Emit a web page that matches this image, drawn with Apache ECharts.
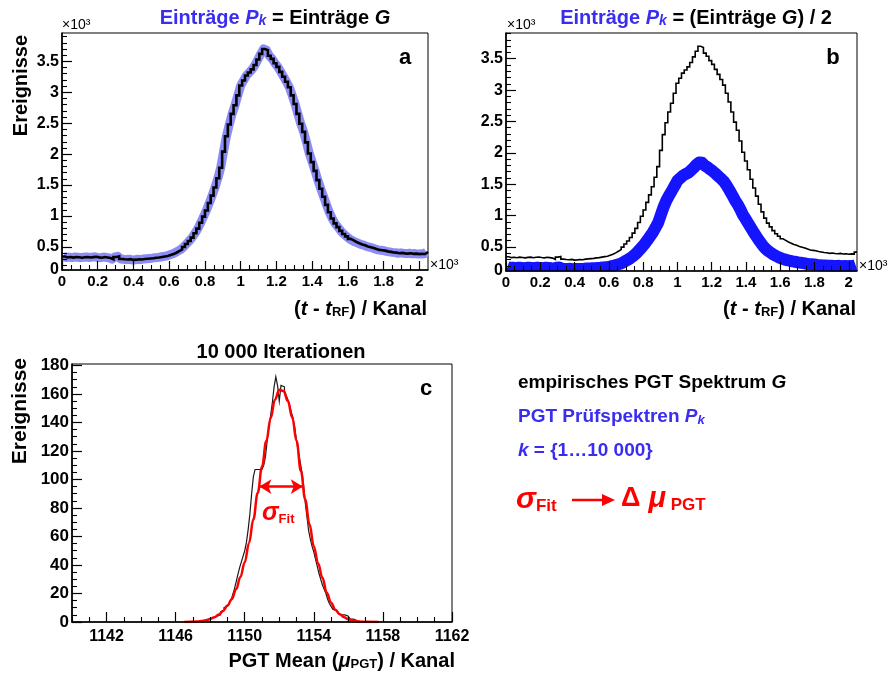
<!DOCTYPE html>
<html>
<head>
<meta charset="utf-8">
<script src="https://cdn.jsdelivr.net/npm/echarts@6/dist/echarts.min.js"></script>
<style>
  html, body { margin: 0; padding: 0; background: #fff; }
  #chart { width: 891px; height: 675px; }
</style>
</head>
<body>
<div id="chart"></div>
<script>
// ---------------------------------------------------------------
// Timing spectrum G (channel bins of width 16, left edges 0 ... 2032)
// ---------------------------------------------------------------
const binWidth = 16;
const spectrumG = [
  345, 330, 336, 328, 338, 332, 326, 334, 338, 329, 335, 340, 331, 326, 336, 330,
  322, 302, 338, 348, 306, 300, 296, 302, 290, 294, 300, 296, 306, 310, 314, 318,
  326, 330, 338, 346, 352, 368, 384, 406, 432, 458, 498, 548, 596, 650, 720, 796,
  890, 990, 1090, 1210, 1330, 1460, 1610, 1780, 2040, 2290, 2480, 2650, 2790, 2950, 3110, 3190,
  3270, 3320, 3370, 3440, 3530, 3620, 3700, 3680, 3590, 3540, 3470, 3410, 3330, 3250, 3170, 3080,
  2950, 2810, 2650, 2490, 2360, 2190, 2010, 1870, 1730, 1580, 1440, 1310, 1180, 1060, 960, 880,
  820, 760, 710, 670, 630, 605, 580, 560, 540, 528, 508, 496, 484, 466, 452, 446,
  440, 428, 420, 412, 408, 398, 404, 396, 392, 398, 388, 392, 384, 390, 386, 418
];
// Test spectra P_k with half the entries of G (same binning)
const spectrumHalf = [
  178, 164, 170, 163, 168, 167, 161, 168, 170, 163, 167, 171, 164, 162, 169, 165,
  160, 153, 168, 172, 154, 150, 149, 151, 145, 148, 150, 149, 152, 156, 157, 160,
  162, 166, 168, 174, 176, 184, 193, 203, 216, 230, 249, 275, 298, 326, 360, 398,
  446, 494, 546, 604, 666, 730, 806, 888, 1015, 1140, 1242, 1322, 1398, 1474, 1556, 1596,
  1634, 1662, 1684, 1722, 1764, 1812, 1848, 1842, 1796, 1770, 1736, 1704, 1666, 1624, 1586, 1540,
  1476, 1404, 1326, 1246, 1178, 1096, 1004, 936, 864, 792, 720, 654, 590, 530, 480, 440,
  410, 380, 356, 334, 316, 302, 290, 280, 270, 264, 254, 248, 242, 233, 226, 223,
  220, 214, 210, 206, 204, 199, 202, 198, 196, 199, 194, 196, 192, 195, 193, 208
];

// ---------------------------------------------------------------
// Distribution of PGT means over 10 000 iterations
// ---------------------------------------------------------------
const meanBinStart = 1147.4;
const meanBinWidth = 0.1;
const meanCounts = [
  0, 0, 1, 1, 1, 2, 2, 3, 3, 4,
  4, 5, 7, 8, 10, 11, 12, 13, 15, 19,
  23, 28, 33, 38, 42, 46, 50, 56, 65, 76,
  90, 102, 107, 107, 108, 107, 108, 110, 116, 127,
  137, 145, 154, 165, 172, 166, 155, 166, 165, 162,
  159, 156, 152, 147, 143, 136, 127, 120, 113, 106,
  97, 84, 74, 64, 58, 53, 49, 44, 39, 34,
  30, 26, 23, 20, 16, 13, 11, 9, 8, 7,
  6, 5, 5, 5, 6, 4, 3, 2, 2, 1,
  1, 1, 0, 0
];
// Gaussian fit curve, sampled
const fitX = [1146.5, 1147.25, 1147.5, 1147.75, 1148, 1148.25, 1148.5, 1148.75, 1149, 1149.25,
  1149.5, 1149.75, 1150, 1150.25, 1150.5, 1150.75, 1151, 1151.25, 1151.5, 1151.75,
  1152, 1152.25, 1152.5, 1152.75, 1153, 1153.25, 1153.5, 1153.75, 1154, 1154.25,
  1154.5, 1154.75, 1155, 1155.25, 1155.5, 1155.75, 1156, 1156.25, 1156.5, 1156.75,
  1157, 1157.75];
const fitY = [0.05, 0.4, 0.7, 1.3, 2.1, 3.4, 5.2, 7.8, 11.5, 16,
  23, 31.5, 42, 55.5, 72, 90.5, 109, 127, 143, 156,
  163, 162, 155, 143.5, 127, 106, 86, 68.5, 53, 41,
  31, 20.5, 13.5, 8.6, 5.5, 3.4, 2, 1.1, 0.5, 0.25,
  0.1, 0];
// width marker of the fit (x from, x to, height)
const sigmaSpan = [1150.85, 1153.36];
const sigmaLevel = 95;

// ---------------------------------------------------------------
// Tick labels
// ---------------------------------------------------------------
const spectrumTickX = [0, 200, 400, 600, 800, 1000, 1200, 1400, 1600, 1800, 2000];
const spectrumTickY = [500, 1000, 1500, 2000, 2500, 3000, 3500];
const meanTickX = [1142, 1146, 1150, 1154, 1158, 1162];
const meanTickY = [0, 20, 40, 60, 80, 100, 120, 140, 160, 180];

// axis ranges
const rangeA = { xMin: 0, xMax: 2048, yMin: 127, yMax: 3958 };
const rangeB = { xMin: 0, xMax: 2048, yMin: 117, yMax: 3910 };
const rangeC = { xMin: 1140, xMax: 1162, yMin: 0, yMax: 181 };

// ---------------------------------------------------------------
const FONT = '"Liberation Sans", Arial, Helvetica, sans-serif';
const BLUE_TXT = '#3a2df0';
const RED = '#ff0000';

// step outline of a histogram: one point per left bin edge plus the closing edge
function histPoints(values, start, width) {
  const pts = values.map((v, i) => [+(start + i * width).toFixed(3), v]);
  pts.push([+(start + values.length * width).toFixed(3), values[values.length - 1]]);
  return pts;
}
// the same histogram as a polyline through the bin centres (for the broad envelopes)
function centrePoints(values, start, width) {
  return values.map((v, i) => [+(start + (i + 0.5) * width).toFixed(3), v]);
}
function steps(from, to, step, skip) {
  const out = [];
  for (let v = from; v <= to + 1e-9; v += step) {
    const r = +v.toFixed(4);
    if (!skip.some(s => Math.abs(s - r) < 1e-6)) out.push(r);
  }
  return out;
}

const xAxes = [], yAxes = [];
function addAxes(list, dim, grid, min, max, majors, minors, labelVals, fmt, o) {
  const pos = dim === 'x' ? 'bottom' : 'left';
  list.push({
    gridIndex: grid, type: 'value', min, max, position: pos, z: 6,
    axisLine: { show: true, onZero: false, lineStyle: { color: '#000', width: 1.6 } },
    axisTick: { show: true, inside: true, length: o.major, customValues: majors,
      lineStyle: { color: '#000', width: 1.2 } },
    axisLabel: { show: true, customValues: labelVals, formatter: fmt, color: '#000',
      fontWeight: 'bold', fontSize: o.fontSize, fontFamily: FONT, margin: o.margin },
    splitLine: { show: false }
  });
  const majorIdx = list.length - 1;
  list.push({
    gridIndex: grid, type: 'value', min, max, position: pos, z: 6,
    axisLine: { show: false, onZero: false },
    axisTick: { show: true, inside: true, length: o.minor, customValues: minors,
      lineStyle: { color: '#000', width: 1.1 } },
    axisLabel: { show: false },
    splitLine: { show: false }
  });
  return majorIdx;
}

const kFmt = v => String(+(v / 1000).toFixed(1));
const kFmtZero = min => v => (v <= min + 1 ? '0' : String(+(v / 1000).toFixed(1)));

// panel a
const axA_x = addAxes(xAxes, 'x', 0, rangeA.xMin, rangeA.xMax, spectrumTickX,
  steps(50, 2000, 50, spectrumTickX), spectrumTickX, kFmt, { major: 9, minor: 5, fontSize: 15, margin: 4 });
const axA_y = addAxes(yAxes, 'y', 0, rangeA.yMin, rangeA.yMax, spectrumTickY,
  steps(200, 3900, 100, spectrumTickY), [rangeA.yMin].concat(spectrumTickY), kFmtZero(rangeA.yMin),
  { major: 10, minor: 5, fontSize: 16, margin: 3 });
// panel b
const axB_x = addAxes(xAxes, 'x', 1, rangeB.xMin, rangeB.xMax, spectrumTickX,
  steps(50, 2000, 50, spectrumTickX), spectrumTickX, kFmt, { major: 9, minor: 5, fontSize: 15, margin: 4 });
const axB_y = addAxes(yAxes, 'y', 1, rangeB.yMin, rangeB.yMax, spectrumTickY,
  steps(200, 3900, 100, spectrumTickY), [rangeB.yMin].concat(spectrumTickY), kFmtZero(rangeB.yMin),
  { major: 10, minor: 5, fontSize: 16, margin: 3 });
// panel c
const axC_x = addAxes(xAxes, 'x', 2, rangeC.xMin, rangeC.xMax, meanTickX,
  steps(1140, 1162, 1, meanTickX), meanTickX, v => String(v), { major: 10, minor: 5, fontSize: 16, margin: 7 });
const axC_y = addAxes(yAxes, 'y', 2, rangeC.yMin, rangeC.yMax, meanTickY,
  steps(5, 180, 5, meanTickY), meanTickY, v => String(v), { major: 10, minor: 5, fontSize: 17, margin: 3 });

const gridBase = { show: true, borderColor: '#000', borderWidth: 1, backgroundColor: 'transparent', containLabel: false };

function R(size, fill, italic, more) {
  return Object.assign({ fontSize: size, fontWeight: 'bold', fontStyle: italic ? 'italic' : 'normal',
    fontFamily: FONT, fill: fill }, more || {});
}
const SUB = { verticalAlign: 'bottom', lineHeight: 11 };

function text(x, y, str, style, el) {
  return Object.assign({ type: 'text', x: x, y: y, silent: true, z: 10,
    style: Object.assign({ text: str, fill: '#000', font: 'bold 20px ' + FONT,
      align: 'left', verticalAlign: 'middle' }, style || {}) }, el || {});
}

const titleRichBlue = {
  b: R(20, BLUE_TXT, false), bi: R(20, BLUE_TXT, true), bs: R(14, BLUE_TXT, true, SUB),
  k: R(20, '#000', false), ki: R(20, '#000', true)
};
const kanalRich = { p: R(20, '#000', false), i: R(20, '#000', true), s: R(13, '#000', false, SUB) };

const graphics = [
  // keeps the broad envelope of panel b inside its frame
  { type: 'rect', silent: true, z: 4, shape: { x: 505, y: 271.8, width: 354, height: 8 }, style: { fill: '#fff' } },
  // panel titles
  text(275, 18, '{b|Einträge }{bi|P}{bs|k}{k| = Einträge }{ki|G}', { align: 'center', rich: titleRichBlue }),
  text(696, 18, '{b|Einträge }{bi|P}{bs|k}{k| = (Einträge }{ki|G}{k|) / 2}', { align: 'center', rich: titleRichBlue }),
  text(281, 352, '10 000 Iterationen', { align: 'center' }),
  // exponents
  text(62, 25, '×10³', { font: '14px ' + FONT }),
  text(507, 25, '×10³', { font: '14px ' + FONT }),
  text(430, 265, '×10³', { font: '14px ' + FONT }),
  text(859, 266, '×10³', { font: '14px ' + FONT }),
  // panel letters
  text(405, 58, 'a', { align: 'center', font: 'bold 22px ' + FONT }),
  text(833, 58, 'b', { align: 'center', font: 'bold 22px ' + FONT }),
  text(426, 389, 'c', { align: 'center', font: 'bold 22px ' + FONT }),
  // axis titles
  text(427, 309, '{p|(}{i|t}{p| - }{i|t}{s|RF}{p|) / Kanal}', { align: 'right', rich: kanalRich }),
  text(856, 309, '{p|(}{i|t}{p| - }{i|t}{s|RF}{p|) / Kanal}', { align: 'right', rich: kanalRich }),
  text(455, 661, '{p|PGT Mean (}{i|μ}{s|PGT}{p|) / Kanal}', { align: 'right', rich: kanalRich }),
  text(21, 35, 'Ereignisse', { align: 'right', font: 'bold 20px ' + FONT }, { rotation: Math.PI / 2 }),
  text(20, 358, 'Ereignisse', { align: 'right', font: 'bold 21px ' + FONT }, { rotation: Math.PI / 2 }),
  // fit width label
  text(262, 513, '{s|σ}{f|Fit}', { rich: { s: R(25, RED, true), f: R(13, RED, false, SUB) } }),
  // description block
  text(518, 383, '{n|empirisches PGT Spektrum }{i|G}', { rich: { n: R(19, '#000', false), i: R(19, '#000', true) } }),
  text(518, 417, '{n|PGT Prüfspektren }{i|P}{s|k}', { rich: { n: R(19, BLUE_TXT, false), i: R(19, BLUE_TXT, true), s: R(13, BLUE_TXT, true, SUB) } }),
  text(518, 451, '{i|k} = {1…10 000}', { fill: BLUE_TXT, font: 'bold 19px ' + FONT, rich: { i: R(19, BLUE_TXT, true) } }),
  text(516, 500, '{s|σ}{f|Fit}', { rich: { s: R(30, RED, true), f: R(17, RED, false, { verticalAlign: 'bottom', lineHeight: 12 }) } }),
  { type: 'line', silent: true, z: 10, shape: { x1: 572, y1: 500, x2: 605, y2: 500 }, style: { stroke: RED, lineWidth: 2.5 } },
  { type: 'polygon', silent: true, z: 10, shape: { points: [[602, 494], [615, 500], [602, 506]] }, style: { fill: RED } },
  text(621, 499, '{d|Δ}{m| μ}{p| PGT}', { rich: { d: R(27, RED, false), m: R(29, RED, true), p: R(17, RED, false, { verticalAlign: 'bottom', lineHeight: 12 }) } })
];

const option = {
  backgroundColor: '#fff',
  animation: false,
  grid: [
    Object.assign({ left: 62, top: 33, width: 366, height: 237 }, gridBase),
    Object.assign({ left: 506, top: 33, width: 351, height: 238 }, gridBase),
    Object.assign({ left: 72, top: 364, width: 380, height: 258 }, gridBase)
  ],
  xAxis: xAxes,
  yAxis: yAxes,
  series: [
    { // envelope of the test spectra P_k
      type: 'line', xAxisIndex: axA_x, yAxisIndex: axA_y, symbol: 'none', silent: true,
      data: centrePoints(spectrumG, 0, binWidth), z: 2,
      lineStyle: { color: '#8c8cf6', width: 9, join: 'round', cap: 'butt' }
    },
    {
      type: 'line', xAxisIndex: axA_x, yAxisIndex: axA_y, step: 'end', symbol: 'none', silent: true,
      data: histPoints(spectrumG, 0, binWidth), z: 3,
      lineStyle: { color: '#000', width: 2.6, join: 'miter' }
    },
    {
      type: 'line', xAxisIndex: axB_x, yAxisIndex: axB_y, symbol: 'none', silent: true,
      data: centrePoints(spectrumHalf, 0, binWidth), z: 2,
      lineStyle: { color: '#1414ff', width: 12, join: 'round', cap: 'butt' }
    },
    {
      type: 'line', xAxisIndex: axB_x, yAxisIndex: axB_y, step: 'end', symbol: 'none', silent: true,
      data: histPoints(spectrumG, 0, binWidth), z: 3,
      lineStyle: { color: '#000', width: 1.6, join: 'miter' }
    },
    {
      type: 'line', xAxisIndex: axC_x, yAxisIndex: axC_y, step: 'end', symbol: 'none', silent: true,
      data: histPoints(meanCounts, meanBinStart, meanBinWidth), z: 2,
      lineStyle: { color: '#1a1a1a', width: 1.2, join: 'miter' }
    },
    {
      type: 'line', xAxisIndex: axC_x, yAxisIndex: axC_y, symbol: 'none', silent: true,
      smooth: 0.4, smoothMonotone: 'x',
      data: fitX.map((x, i) => [x, fitY[i]]), z: 3,
      lineStyle: { color: RED, width: 2.5 },
      markLine: {
        silent: true, symbol: ['arrow', 'arrow'], symbolSize: [11, 12],
        label: { show: false },
        lineStyle: { color: RED, width: 2.5, type: 'solid' },
        data: [[{ coord: [sigmaSpan[0], sigmaLevel] }, { coord: [sigmaSpan[1], sigmaLevel] }]]
      }
    }
  ],
  graphic: graphics
};

const chart = echarts.init(document.getElementById('chart'), null, { renderer: 'canvas' });
chart.setOption(option);
</script>
</body>
</html>
